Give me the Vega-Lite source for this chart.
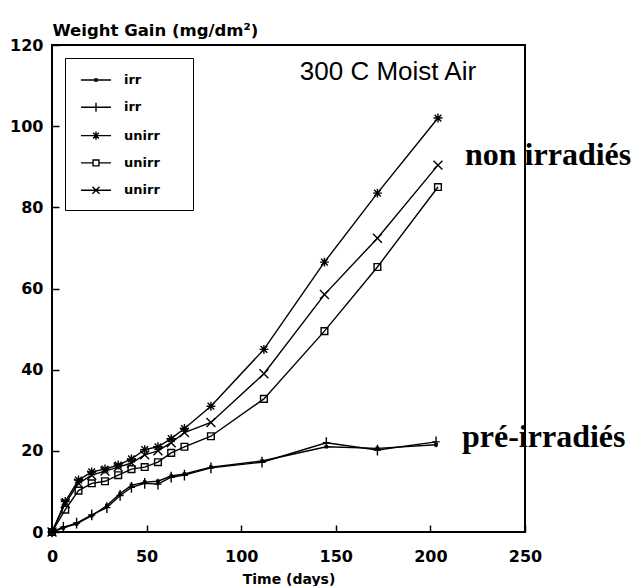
{
  "$schema": "https://vega.github.io/schema/vega-lite/v6.json",
  "width": 473,
  "height": 487,
  "autosize": {"type": "none"},
  "padding": {"left": 52, "top": 45, "right": 111, "bottom": 54},
  "background": "white",
  "config": {
    "view": {"stroke": "black", "strokeWidth": 2},
    "axis": {
      "labelFont": "DejaVu Sans",
      "labelFontWeight": "bold",
      "labelFontSize": 16,
      "labelColor": "black",
      "labelFlush": false,
      "labelOverlap": false,
      "titleFont": "DejaVu Sans",
      "titleFontWeight": "bold",
      "titleFontSize": 14,
      "titleColor": "black",
      "domain": false,
      "grid": false,
      "tickColor": "black",
      "tickWidth": 1.5,
      "tickSize": -7
    }
  },
  "resolve": {"scale": {"shape": "independent"}},
  "datasets": {
    "curves": [
      {"series": "irr a", "t": 0, "w": 0},
      {"series": "irr a", "t": 6, "w": 1},
      {"series": "irr a", "t": 13, "w": 2},
      {"series": "irr a", "t": 21, "w": 4},
      {"series": "irr a", "t": 29, "w": 6.5},
      {"series": "irr a", "t": 36, "w": 9.5},
      {"series": "irr a", "t": 42, "w": 11.5},
      {"series": "irr a", "t": 49, "w": 12.3},
      {"series": "irr a", "t": 56, "w": 12.5},
      {"series": "irr a", "t": 63, "w": 13.8},
      {"series": "irr a", "t": 70, "w": 14.3},
      {"series": "irr a", "t": 84, "w": 16},
      {"series": "irr a", "t": 111, "w": 17.5},
      {"series": "irr a", "t": 145, "w": 21},
      {"series": "irr a", "t": 172, "w": 20.6},
      {"series": "irr a", "t": 203, "w": 21.5},
      {"series": "irr b", "t": 0, "w": 0},
      {"series": "irr b", "t": 6, "w": 1.2},
      {"series": "irr b", "t": 13, "w": 2.2},
      {"series": "irr b", "t": 21, "w": 4.2},
      {"series": "irr b", "t": 29, "w": 6},
      {"series": "irr b", "t": 36, "w": 9},
      {"series": "irr b", "t": 42, "w": 11},
      {"series": "irr b", "t": 49, "w": 12},
      {"series": "irr b", "t": 56, "w": 11.8},
      {"series": "irr b", "t": 63, "w": 13.5},
      {"series": "irr b", "t": 70, "w": 14},
      {"series": "irr b", "t": 84, "w": 15.8},
      {"series": "irr b", "t": 111, "w": 17.2},
      {"series": "irr b", "t": 145, "w": 22},
      {"series": "irr b", "t": 172, "w": 20.2},
      {"series": "irr b", "t": 203, "w": 22.2},
      {"series": "unirr a", "t": 0, "w": 0},
      {"series": "unirr a", "t": 7, "w": 7.5},
      {"series": "unirr a", "t": 14, "w": 12.8},
      {"series": "unirr a", "t": 21, "w": 14.8},
      {"series": "unirr a", "t": 28, "w": 15.5},
      {"series": "unirr a", "t": 35, "w": 16.5},
      {"series": "unirr a", "t": 42, "w": 18},
      {"series": "unirr a", "t": 49, "w": 20.3},
      {"series": "unirr a", "t": 56, "w": 21},
      {"series": "unirr a", "t": 63, "w": 23},
      {"series": "unirr a", "t": 70, "w": 25.5},
      {"series": "unirr a", "t": 84, "w": 31},
      {"series": "unirr a", "t": 112, "w": 45},
      {"series": "unirr a", "t": 144, "w": 66.5},
      {"series": "unirr a", "t": 172, "w": 83.5},
      {"series": "unirr a", "t": 204, "w": 102},
      {"series": "unirr b", "t": 0, "w": 0},
      {"series": "unirr b", "t": 7, "w": 5.5},
      {"series": "unirr b", "t": 14, "w": 10.2},
      {"series": "unirr b", "t": 21, "w": 12},
      {"series": "unirr b", "t": 28, "w": 12.5},
      {"series": "unirr b", "t": 35, "w": 14},
      {"series": "unirr b", "t": 42, "w": 15.5},
      {"series": "unirr b", "t": 49, "w": 16},
      {"series": "unirr b", "t": 56, "w": 17.2},
      {"series": "unirr b", "t": 63, "w": 19.5},
      {"series": "unirr b", "t": 70, "w": 21},
      {"series": "unirr b", "t": 84, "w": 23.6},
      {"series": "unirr b", "t": 112, "w": 32.8},
      {"series": "unirr b", "t": 144, "w": 49.5},
      {"series": "unirr b", "t": 172, "w": 65.3},
      {"series": "unirr b", "t": 204, "w": 85},
      {"series": "unirr c", "t": 0, "w": 0},
      {"series": "unirr c", "t": 7, "w": 7},
      {"series": "unirr c", "t": 14, "w": 12},
      {"series": "unirr c", "t": 21, "w": 14},
      {"series": "unirr c", "t": 28, "w": 15},
      {"series": "unirr c", "t": 35, "w": 16},
      {"series": "unirr c", "t": 42, "w": 17},
      {"series": "unirr c", "t": 49, "w": 19},
      {"series": "unirr c", "t": 56, "w": 20},
      {"series": "unirr c", "t": 63, "w": 22},
      {"series": "unirr c", "t": 70, "w": 24.5},
      {"series": "unirr c", "t": 84, "w": 27},
      {"series": "unirr c", "t": 112, "w": 39},
      {"series": "unirr c", "t": 144, "w": 58.5},
      {"series": "unirr c", "t": 172, "w": 72.4},
      {"series": "unirr c", "t": 204, "w": 90.4}
    ]
  },
  "layer": [
    {
      "data": {"name": "curves"},
      "mark": {"type": "line", "color": "black", "strokeWidth": 1.4},
      "encoding": {
        "x": {"field": "t", "type": "quantitative", "scale": {"domain": [0, 250], "nice": false},
              "axis": {"title": "Time (days)", "values": [0, 50, 100, 150, 200, 250], "labelPadding": 23, "titlePadding": 8}},
        "y": {"field": "w", "type": "quantitative", "scale": {"domain": [0, 120], "nice": false},
              "axis": {"title": "Weight Gain (mg/dm²)", "values": [0, 20, 40, 60, 80, 100, 120], "labelPadding": 16,
                       "titleFontSize": 16.5, "titleAngle": 0, "titleX": 0, "titleY": -10, "titleAlign": "left", "titleBaseline": "alphabetic"}},
        "detail": {"field": "series"}
      }
    },
    {
      "data": {"name": "curves"},
      "mark": {"type": "point", "filled": false, "stroke": "black", "strokeWidth": 1.4, "size": 80, "opacity": 1},
      "encoding": {
        "x": {"field": "t", "type": "quantitative"},
        "y": {"field": "w", "type": "quantitative"},
        "shape": {
          "field": "series", "type": "nominal",
          "scale": {
            "domain": ["irr a", "irr b", "unirr a", "unirr b", "unirr c"],
            "range": [
              "M-0.25,-0.25L0.25,-0.25L0.25,0.25L-0.25,0.25Z",
              "M-0.8,0L0.8,0M0,-1.2L0,1.2",
              "M0,-1L0,1M-1,0L1,0M-0.75,-0.75L0.75,0.75M-0.75,0.75L0.75,-0.75",
              "M-0.75,-0.75L0.75,-0.75L0.75,0.75L-0.75,0.75Z",
              "M-1,-1L1,1M-1,1L1,-1"
            ]
          },
          "legend": null
        }
      }
    },
    {
      "data": {"name": "curves"},
      "mark": {"type": "point", "filled": false, "stroke": "black", "strokeWidth": 1.4, "size": 0, "opacity": 0},
      "encoding": {
        "x": {"field": "t", "type": "quantitative"},
        "y": {"field": "w", "type": "quantitative"},
        "shape": {
          "field": "series", "type": "nominal",
          "scale": {
            "domain": ["irr a", "irr b", "unirr a", "unirr b", "unirr c"],
            "range": [
              "M-1.67,0L1.67,0M-0.11,-0.11L0.11,-0.11L0.11,0.11L-0.11,0.11Z",
              "M-1.67,0L1.67,0M0,-0.5L0,0.5",
              "M-1.67,0L1.67,0M0,-0.45L0,0.45M-0.33,-0.33L0.33,0.33M-0.33,0.33L0.33,-0.33",
              "M-1.67,0L-0.33,0M0.33,0L1.67,0M-0.33,-0.33L0.33,-0.33L0.33,0.33L-0.33,0.33Z",
              "M-1.67,0L1.67,0M-0.39,-0.39L0.39,0.39M-0.39,0.39L0.39,-0.39"
            ]
          },
          "legend": {
            "title": null,
            "orient": "none",
            "legendX": 13,
            "legendY": 13,
            "strokeColor": "black",
            "padding": 12,
            "symbolOffset": 9,
            "symbolSize": 324,
            "symbolOpacity": 1,
            "symbolStrokeColor": "black",
            "symbolFillColor": "transparent",
            "symbolStrokeWidth": 1.4,
            "labelFont": "DejaVu Sans",
            "labelFontWeight": "bold",
            "labelFontSize": 13,
            "labelColor": "black",
            "labelOpacity": 1,
            "labelOffset": 18,
            "rowPadding": 10.3,
            "labelExpr": "split(datum.label, ' ')[0] + '\u2800\u2800'",
            "encode": {
              "legend": {"update": {"strokeWidth": {"value": 1.5}}}
            }
          }
        }
      }
    },
    {
      "data": {"values": [{"t": 131, "w": 113.3, "label": "300 C Moist Air"}]},
      "mark": {"type": "text", "align": "left", "baseline": "middle", "font": "Liberation Sans", "fontSize": 26, "color": "black"},
      "encoding": {
        "x": {"field": "t", "type": "quantitative"},
        "y": {"field": "w", "type": "quantitative"},
        "text": {"field": "label"}
      }
    },
    {
      "data": {"values": [{"t": 218.3, "w": 92.9, "label": "non irradiés"}, {"t": 216.7, "w": 23.4, "label": "pré-irradiés"}]},
      "mark": {"type": "text", "align": "left", "baseline": "middle", "font": "Liberation Serif", "fontWeight": "bold", "fontSize": 32, "color": "black"},
      "encoding": {
        "x": {"field": "t", "type": "quantitative"},
        "y": {"field": "w", "type": "quantitative"},
        "text": {"field": "label"}
      }
    }
  ]
}
